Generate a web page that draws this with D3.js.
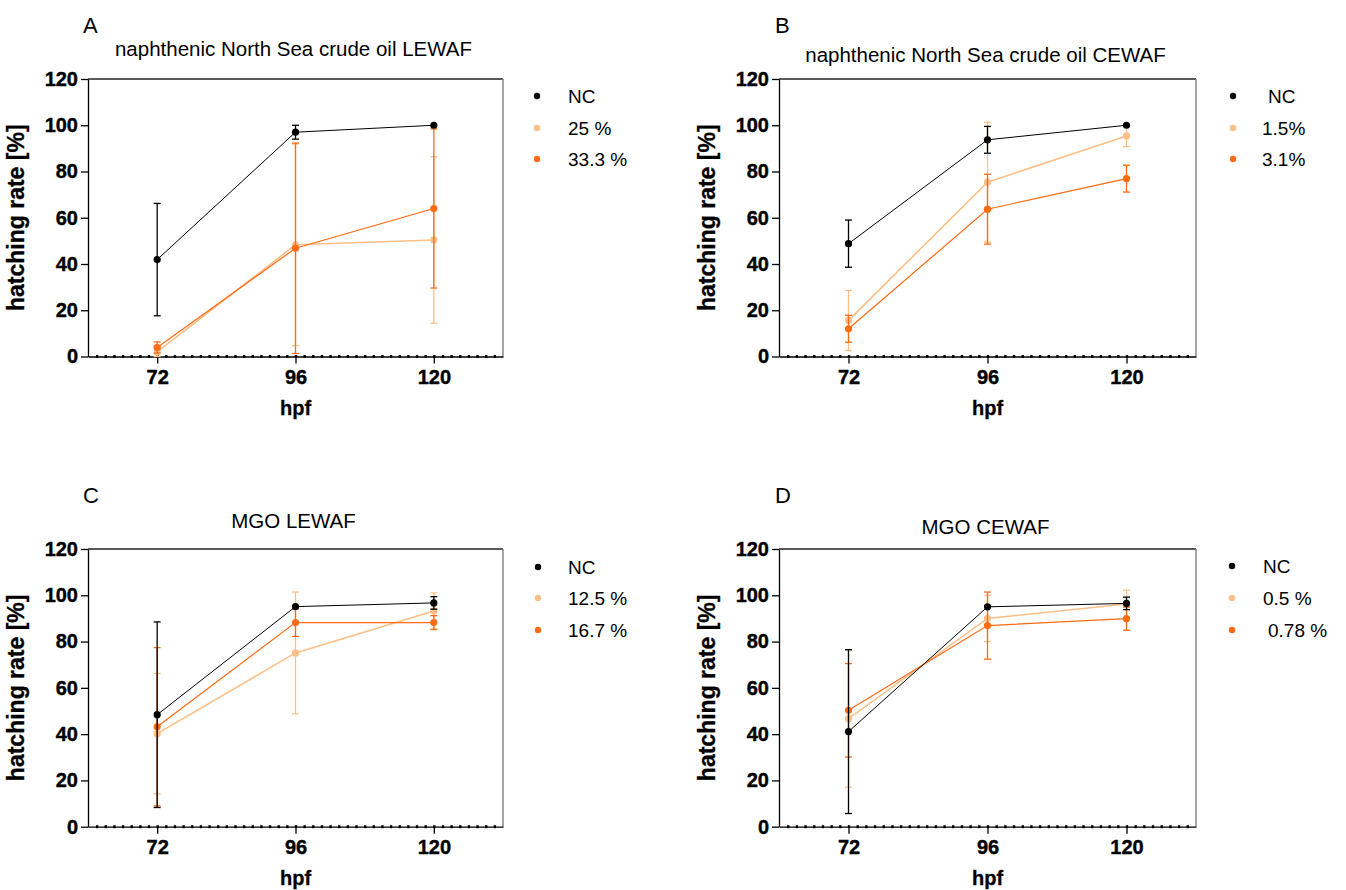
<!DOCTYPE html>
<html>
<head>
<meta charset="utf-8">
<script src="https://cdn.jsdelivr.net/npm/d3@7.9.0/dist/d3.min.js"></script>
<style>
  body { margin: 0; background: #fff; }
  svg { font-family: Arial, "Liberation Sans", sans-serif; }
</style>
</head>
<body>
<svg width="1346" height="890"></svg>
<script>
// x positions (hours post fertilisation) and y ticks
const hpf = [72, 96, 120];
const yTicks = [0, 20, 40, 60, 80, 100, 120];

// A: naphthenic North Sea crude oil LEWAF
const aNC = [41.9, 97.0, 100];
const aNCsd = [24.3, 3.0, 0];
const aLow = [2.0, 48.3, 50.4];
const aLowSd = [2.0, 43.6, 36.0];
const aHigh = [3.9, 46.8, 64.0];
const aHighSd = [2.4, 45.5, 34.4];

// B: naphthenic North Sea crude oil CEWAF
const bNC = [48.8, 93.7, 100];
const bNCsd = [10.2, 5.8, 0];
const bLow = [15.6, 75.4, 95.4];
const bLowSd = [13.0, 25.9, 4.6];
const bHigh = [12.0, 63.7, 76.9];
const bHighSd = [5.8, 15.1, 5.8];

// C: MGO LEWAF
const cNC = [48.4, 95.1, 96.7];
const cNCsd = [40.1, 0, 2.7];
const cLow = [40.2, 75.1, 93.2];
const cLowSd = [26.0, 26.3, 7.8];
const cHigh = [43.2, 88.2, 88.2];
const cHighSd = [34.2, 6.0, 3.0];

// D: MGO CEWAF
const dNC = [41.1, 95.0, 96.5];
const dNCsd = [35.4, 0, 2.7];
const dLow = [46.7, 90.0, 96.2];
const dLowSd = [29.6, 10.0, 6.0];
const dHigh = [50.3, 86.9, 89.9];
const dHighSd = [20.2, 14.5, 5.0];

const panelLetters = ['A', 'B', 'C', 'D'];
const panelTitles = [
  'naphthenic North Sea crude oil LEWAF',
  'naphthenic North Sea crude oil CEWAF',
  'MGO LEWAF',
  'MGO CEWAF'
];
const legendLabels = [
  ['NC', '25 %', '33.3 %'],
  ['NC', '1.5%', '3.1%'],
  ['NC', '12.5 %', '16.7 %'],
  ['NC', '0.5 %', '0.78 %']
];

const colNC = '#000000';
const colLow = '#fdbf88';
const colHigh = '#ff6a14';

const svg = d3.select('svg');

// layout of the four panels
const panels = [
  { left: 88,  right: 503,  top: 79,  bottom: 356.5, letterX: 83,  letterY: 33,  titleY: 56,  legX: 537,  txtX: [568, 568, 568],    legY: [96, 128, 159],
    series: [[aLow, aLowSd, colLow, 1.6], [aHigh, aHighSd, colHigh, 1.2], [aNC, aNCsd, colNC, 1]] },
  { left: 779, right: 1196, top: 79,  bottom: 356.5, letterX: 775, letterY: 33,  titleY: 62,  legX: 1233, txtX: [1268, 1262, 1262], legY: [96, 128, 159],
    series: [[bLow, bLowSd, colLow, 1.6], [bHigh, bHighSd, colHigh, 1.2], [bNC, bNCsd, colNC, 1]] },
  { left: 88,  right: 503,  top: 549, bottom: 826.7, letterX: 83,  letterY: 503, titleY: 528, legX: 538,  txtX: [568, 568, 568],    legY: [567, 598, 630],
    series: [[cLow, cLowSd, colLow, 1.6], [cHigh, cHighSd, colHigh, 1.2], [cNC, cNCsd, colNC, 1]] },
  { left: 779, right: 1196, top: 549, bottom: 826.7, letterX: 775, letterY: 503, titleY: 534, legX: 1232, txtX: [1263, 1263, 1268], legY: [566, 598, 630],
    series: [[dLow, dLowSd, colLow, 1.6], [dHigh, dHighSd, colHigh, 1.2], [dNC, dNCsd, colNC, 1]] }
];

panels.forEach((p, i) => {
  const g = svg.append('g');
  const x = d3.scaleLinear().domain([60, 132]).range([p.left, p.right]);
  const y = d3.scaleLinear().domain([0, 120]).range([p.bottom, p.top]);

  // panel letter and title
  g.append('text').attr('x', p.letterX).attr('y', p.letterY)
    .attr('font-size', 22).text(panelLetters[i]);
  g.append('text').attr('x', (p.left + p.right) / 2 - 2).attr('y', p.titleY)
    .attr('text-anchor', 'middle').attr('font-size', 20.5).text(panelTitles[i]);

  // frame: top and right
  g.append('line').attr('x1', p.left).attr('x2', p.right).attr('y1', p.top).attr('y2', p.top)
    .attr('stroke', '#222').attr('stroke-width', 1.3);
  g.append('line').attr('x1', p.right).attr('x2', p.right).attr('y1', p.top).attr('y2', p.bottom)
    .attr('stroke', '#888').attr('stroke-width', 1.5);

  // y axis
  const ya = g.append('g').attr('transform', `translate(${p.left},0)`)
    .call(d3.axisLeft(y).tickValues(yTicks).tickSize(7).tickSizeOuter(0).tickPadding(3));
  ya.selectAll('text').attr('font-size', 20).attr('font-weight', 'bold').attr('fill', '#000')
    .attr('stroke', '#000').attr('stroke-width', 0.4)
    .attr('font-family', 'Arial, "Liberation Sans", sans-serif');
  ya.selectAll('line, path').attr('stroke', '#000').attr('stroke-width', 1.3);

  // x axis with major ticks
  const xa = g.append('g').attr('transform', `translate(0,${p.bottom})`)
    .call(d3.axisBottom(x).tickValues(hpf).tickSize(7).tickSizeOuter(0).tickPadding(6));
  xa.selectAll('text').attr('font-size', 20).attr('font-weight', 'bold').attr('fill', '#000')
    .attr('stroke', '#000').attr('stroke-width', 0.4)
    .attr('font-family', 'Arial, "Liberation Sans", sans-serif');
  xa.selectAll('line, path').attr('stroke', '#000').attr('stroke-width', 1.3);

  // minor ticks shown as dots on the x axis
  const minor = d3.range(61.5, 131, 1.5);
  const xm = g.append('g').attr('transform', `translate(0,${p.bottom - 1.5})`)
    .call(d3.axisBottom(x).tickValues(minor).tickSize(3).tickFormat(''));
  xm.select('.domain').remove();
  xm.selectAll('line').attr('stroke', '#000').attr('stroke-width', 2.4);

  // axis titles
  g.append('text')
    .attr('transform', `translate(${p.left - 64},${(p.top + p.bottom) / 2}) rotate(-90)`)
    .attr('text-anchor', 'middle').attr('font-size', 23).attr('font-weight', 'bold')
    .attr('stroke', '#000').attr('stroke-width', 0.3)
    .text('hatching rate [%]');
  g.append('text').attr('x', x(96)).attr('y', p.bottom + 58)
    .attr('text-anchor', 'middle').attr('font-size', 20).attr('font-weight', 'bold')
    .attr('stroke', '#000').attr('stroke-width', 0.3)
    .text('hpf');

  // series: error bars, line, markers
  const line = d3.line().x((d, j) => x(hpf[j])).y(d => y(d));
  p.series.forEach(([vals, sds, col, lw]) => {
    const s = g.append('g');
    vals.forEach((v, j) => {
      if (sds[j] <= 0) return;
      const lo = Math.max(0, v - sds[j]), hi = v + sds[j];
      s.append('line').attr('x1', x(hpf[j])).attr('x2', x(hpf[j]))
        .attr('y1', y(lo)).attr('y2', y(hi)).attr('stroke', col).attr('stroke-width', 1.3);
      [lo, hi].forEach(e => {
        s.append('line').attr('x1', x(hpf[j]) - 3.5).attr('x2', x(hpf[j]) + 3.5)
          .attr('y1', y(e)).attr('y2', y(e)).attr('stroke', col).attr('stroke-width', 1.3);
      });
    });
    s.append('path').datum(vals).attr('d', line)
      .attr('fill', 'none').attr('stroke', col).attr('stroke-width', lw);
    s.selectAll('circle').data(vals).join('circle')
      .attr('cx', (d, j) => x(hpf[j])).attr('cy', d => y(d)).attr('r', 3.6)
      .attr('fill', col);
  });

  // legend
  const legCols = [colNC, colLow, colHigh];
  legendLabels[i].forEach((lab, k) => {
    g.append('circle').attr('cx', p.legX).attr('cy', p.legY[k]).attr('r', 3.2).attr('fill', legCols[k]);
    g.append('text').attr('x', p.txtX[k]).attr('y', p.legY[k] + 7)
      .attr('font-size', 19).text(lab);
  });
});
</script>
</body>
</html>
